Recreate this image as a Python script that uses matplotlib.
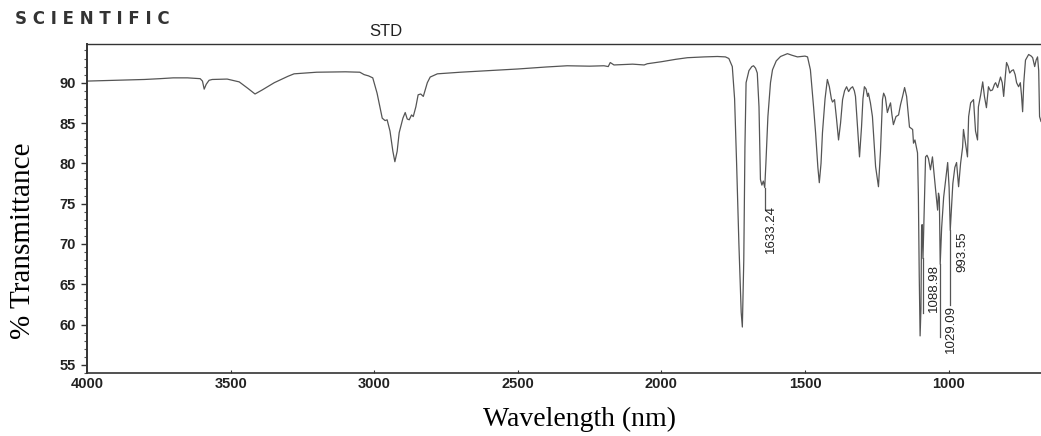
import matplotlib
matplotlib.use('Agg')
import matplotlib.pyplot as plt
from matplotlib.ticker import MultipleLocator

# IR spectrum (wavenumber, % transmittance)
wavenumber = [4000, 3900, 3800, 3746, 3700, 3650, 3606, 3598, 3592, 3585,
              3575, 3564, 3512, 3470, 3440, 3415, 3390, 3348, 3300, 3279,
              3200, 3100, 3050, 3035, 3020, 3005, 2990, 2972, 2962, 2955,
              2945, 2935, 2928, 2920, 2913, 2900, 2892, 2885, 2878, 2870,
              2864, 2855, 2847, 2838, 2829, 2815, 2805, 2780, 2700, 2600,
              2500, 2400, 2328, 2250, 2200, 2185, 2178, 2165, 2100, 2060,
              2049, 2000, 1950, 1909, 1850, 1805, 1777, 1765, 1753, 1745,
              1738, 1730, 1722, 1718, 1713, 1709, 1705, 1695, 1685, 1679,
              1672, 1666, 1660, 1655, 1650, 1645, 1640, 1636, 1629, 1620,
              1613, 1600, 1585, 1561, 1545, 1526, 1500, 1491, 1481, 1470,
              1463, 1455, 1450, 1444, 1439, 1430, 1422, 1415, 1408, 1404,
              1397, 1390, 1383, 1376, 1369, 1362, 1355, 1348, 1341, 1334,
              1328, 1324, 1317, 1310, 1303, 1298, 1293, 1287, 1282, 1279,
              1272, 1265, 1254, 1244, 1237, 1230, 1226, 1220, 1213, 1207,
              1202, 1197, 1192, 1183, 1174, 1167, 1160, 1153, 1146, 1136,
              1125, 1122, 1117, 1108, 1105, 1102, 1099, 1096, 1094, 1092,
              1089, 1085, 1080, 1075, 1070, 1063, 1056, 1050, 1045, 1038,
              1035, 1032, 1029, 1024, 1017, 1010, 1003, 998, 994, 989,
              985, 978, 972, 965, 958, 951, 948, 941, 934, 930,
              923, 913, 906, 899, 896, 888, 881, 875, 868, 861,
              854, 847, 840, 836, 829, 819, 813, 808, 803, 798,
              792, 787, 780, 774, 768, 763, 756, 750, 746, 742,
              738, 732, 721, 712, 707, 700, 695, 690, 686, 683,
              678]
transmittance = [90.2, 90.3, 90.4, 90.5, 90.6, 90.6, 90.5, 90.2, 89.2, 89.8,
                 90.3, 90.4, 90.45, 90.1, 89.3, 88.6, 89.1, 90.0, 90.8, 91.1,
                 91.3, 91.35, 91.3, 91.0, 90.85, 90.6, 88.7, 85.6, 85.3, 85.4,
                 84.0, 81.5, 80.2, 81.5, 83.8, 85.6, 86.3, 85.5, 85.4, 86.0,
                 85.8, 87.0, 88.5, 88.6, 88.3, 90.0, 90.7, 91.1, 91.3, 91.5,
                 91.7, 91.95, 92.1, 92.05, 92.1, 92.0, 92.5, 92.2, 92.3, 92.2,
                 92.35, 92.6, 92.9, 93.1, 93.2, 93.25, 93.2, 93.0, 92.0, 88.0,
                 80.0, 70.0, 61.5, 59.7, 68.0, 82.0, 90.0, 91.5, 92.0, 92.1,
                 91.8, 91.2, 87.0, 78.0, 77.3, 77.8, 77.0, 80.0, 85.8, 90.0,
                 91.6, 92.7, 93.25, 93.6, 93.4, 93.2, 93.3, 93.2, 91.6, 87.0,
                 83.8, 79.5, 77.6, 80.0, 83.8, 88.0, 90.4, 89.5, 88.0, 87.6,
                 87.9, 85.5, 82.9, 85.0, 87.9, 89.0, 89.5, 88.9, 89.3, 89.5,
                 89.0, 88.3, 84.5, 80.8, 84.5, 88.0, 89.5, 89.2, 88.3, 88.7,
                 87.5, 85.8, 79.6, 77.1, 81.5, 87.9, 88.7, 88.2, 86.3, 87.0,
                 87.5, 86.0, 84.8, 85.8, 86.0, 87.3, 88.3, 89.4, 88.3, 84.5,
                 84.2, 82.5, 82.9, 81.3, 76.0, 66.0, 58.6, 62.0, 71.7, 72.4,
                 68.2, 74.0, 80.8, 81.0, 80.6, 79.2, 80.8, 78.5, 76.7, 74.2,
                 76.3, 75.8, 67.5, 72.0, 75.8, 78.0, 80.1, 77.0, 71.7, 75.0,
                 77.5, 79.5, 80.1, 77.1, 80.0, 82.0, 84.2, 82.5, 80.8, 85.8,
                 87.5, 87.9, 84.0, 82.9, 87.0, 88.5, 90.1, 88.3, 86.9, 89.5,
                 89.0, 89.1, 89.8, 90.0, 89.4, 90.7, 90.0, 88.3, 90.5, 92.5,
                 92.0, 91.2, 91.5, 91.6, 91.0, 90.0, 89.5, 90.0, 88.5, 86.4,
                 90.0, 92.8, 93.5, 93.3, 93.1, 92.0, 92.8, 93.2, 91.5, 85.8,
                 85.2]

# labelled peaks
peak_labels = ['1633.24', '1088.98', '1029.09', '993.55']
peak_wn = [1640, 1089, 1029, 994]
peak_T = [77.0, 68.2, 67.5, 71.7]
line_end = [74.3, 61.5, 58.5, 62.4]
label_x = [1620, 1052, 990, 951]
label_y = [71.9, 64.5, 59.5, 69.0]

fig = plt.figure(figsize=(10.41, 4.36), dpi=100)
ax = fig.add_axes([0.0836, 0.1445, 0.9164, 0.7546])

ax.plot(wavenumber, transmittance, color='#555555', lw=0.9)

for w, t0, t1 in zip(peak_wn, peak_T, line_end):
    ax.plot([w, w], [t0, t1], color='#555555', lw=0.9)
for s, x, y in zip(peak_labels, label_x, label_y):
    ax.text(x, y, s, rotation=90, ha='center', va='center', fontsize=9.5,
            family='Liberation Sans', color='#222222')

ax.set_xlim(4000, 678)
ax.set_ylim(54.0, 94.8)
ax.set_xticks([4000, 3500, 3000, 2500, 2000, 1500, 1000])
ax.yaxis.set_major_locator(MultipleLocator(5))
ax.yaxis.set_minor_locator(MultipleLocator(1))
ax.set_yticks([55, 60, 65, 70, 75, 80, 85, 90])

ax.spines['right'].set_visible(False)
for side in ['left', 'top', 'bottom']:
    ax.spines[side].set_color('#333333')
ax.spines['left'].set_linewidth(1.4)
ax.spines['bottom'].set_linewidth(1.2)
ax.spines['top'].set_linewidth(1.0)

ax.tick_params(axis='y', which='major', direction='out', length=4, width=1,
               pad=4, colors='#333333')
ax.tick_params(axis='y', which='minor', direction='out', length=2.5, width=0.8,
               colors='#555555')
ax.tick_params(axis='x', which='major', direction='in', length=2, width=0.8,
               pad=3, colors='#333333')
for lab in ax.get_xticklabels() + ax.get_yticklabels():
    lab.set_family('Liberation Sans')
    lab.set_fontweight('bold')
    lab.set_fontsize(10.5)
    lab.set_color('#222222')

fig.text(0.022, 0.447, '% Transmittance', rotation=90, ha='center', va='center',
         fontsize=21, family='Liberation Serif')
fig.text(0.557, 0.022, 'Wavelength (nm)', ha='center', va='baseline',
         fontsize=20, family='Liberation Serif')
fig.text(0.014, 0.945, 'S C I E N T I F I C', ha='left', va='baseline',
         fontsize=12, fontweight='bold', family='DejaVu Sans', color='#333333')
fig.text(0.355, 0.917, 'STD', ha='left', va='baseline', fontsize=12,
         family='Liberation Sans', color='#222222')

fig.savefig('out.png', dpi=100)
